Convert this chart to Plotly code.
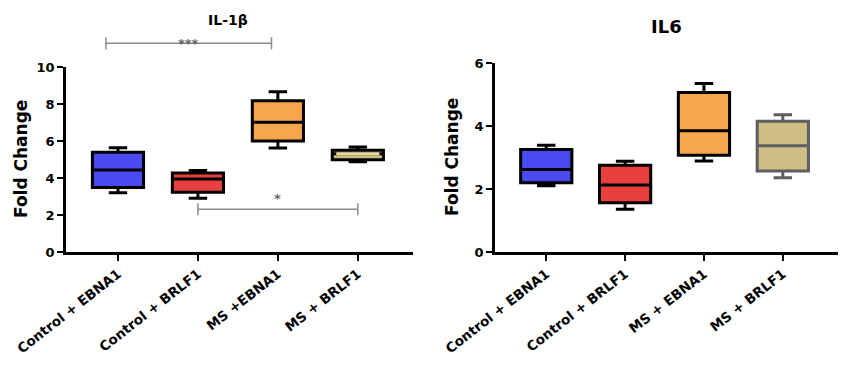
import plotly.graph_objects as go

categories = ["Control + EBNA1", "Control + BRLF1", "MS +EBNA1", "MS + BRLF1"]
categories_r = ["Control + EBNA1", "Control + BRLF1", "MS + EBNA1", "MS + BRLF1"]

# IL-1beta box statistics
il1_low = [3.20, 2.90, 5.62, 4.88]
il1_q1 = [3.48, 3.23, 6.00, 4.99]
il1_med = [4.43, 3.95, 7.01, 5.31]
il1_q3 = [5.39, 4.27, 8.18, 5.50]
il1_high = [5.64, 4.40, 8.66, 5.68]

# IL6 box statistics
il6_low = [2.10, 1.36, 2.89, 2.36]
il6_q1 = [2.20, 1.56, 3.07, 2.57]
il6_med = [2.62, 2.13, 3.85, 3.37]
il6_q3 = [3.25, 2.75, 5.06, 4.15]
il6_high = [3.39, 2.88, 5.35, 4.36]

fills = ["#4a4af2", "#e8403f", "#f7a64c", "#cdbd85"]
lines_l = ["#000000", "#000000", "#000000", "#000000"]
lines_r = ["#000000", "#000000", "#000000", "#5e5e5e"]

# significance brackets (left panel): x start, x end, y level, label
sig_x0 = [-0.15, 1.0]
sig_x1 = [1.92, 3.0]
sig_y = [11.28, 2.31]
sig_lbl = ["***", "*"]

W, H, OFF = 850, 382, 8  # page body margin offset


def PX(px):
    return (px - OFF) / W


def PY(py):
    return 1 - (py - OFF) / H


L_dom_x = [PX(66), PX(413)]
R_dom_x = [PX(495), PX(838)]
L_dom_y = [PY(252), PY(67)]
R_dom_y = [PY(252), PY(63)]
L_rng_y = [0, 10]
R_rng_y = [0, 6]

fig = go.Figure()

for i in range(4):
    fig.add_trace(go.Box(
        x=[i], q1=[il1_q1[i]], median=[il1_med[i]], q3=[il1_q3[i]],
        lowerfence=[il1_low[i]], upperfence=[il1_high[i]],
        fillcolor=fills[i], line=dict(color=lines_l[i], width=3),
        width=0.64, whiskerwidth=0.36, boxpoints=False,
        xaxis="x", yaxis="y", showlegend=False, hoverinfo="skip"))
    fig.add_trace(go.Box(
        x=[i], q1=[il6_q1[i]], median=[il6_med[i]], q3=[il6_q3[i]],
        lowerfence=[il6_low[i]], upperfence=[il6_high[i]],
        fillcolor=fills[i], line=dict(color=lines_r[i], width=3),
        width=0.65, whiskerwidth=0.36, boxpoints=False,
        xaxis="x2", yaxis="y2", showlegend=False, hoverinfo="skip"))

# light median stripe on the narrow 4th IL-1b box
fig.add_shape(type="line", xref="x", yref="y",
              x0=3 - 0.27, x1=3 + 0.27, y0=il1_med[3], y1=il1_med[3],
              line=dict(color="#e6dca0", width=3))


def ypap(v, dom, rng):
    return dom[0] + (v - rng[0]) / (rng[1] - rng[0]) * (dom[1] - dom[0])


gray = "#8c8c8c"
tick_h = 0.33
for a, b, yv, lbl in zip(sig_x0, sig_x1, sig_y, sig_lbl):
    yp = ypap(yv, L_dom_y, L_rng_y)
    yt = ypap(yv + tick_h, L_dom_y, L_rng_y)
    yb = ypap(yv - tick_h, L_dom_y, L_rng_y)
    fig.add_shape(type="line", xref="x", yref="paper", x0=a, x1=b, y0=yp, y1=yp,
                  line=dict(color=gray, width=1.5))
    fig.add_shape(type="line", xref="x", yref="paper", x0=a, x1=a, y0=yb, y1=yt,
                  line=dict(color=gray, width=1.5))
    fig.add_shape(type="line", xref="x", yref="paper", x0=b, x1=b, y0=yb, y1=yt,
                  line=dict(color=gray, width=1.5))
    fig.add_annotation(x=(a + b) / 2, y=yp, xref="x", yref="paper", text="<b>" + lbl + "</b>",
                       showarrow=False, xanchor="center",
                       yanchor="bottom" if lbl == "*" else "middle",
                       yshift=1 if lbl == "*" else 0,
                       font=dict(size=13, color="#666666", family="DejaVu Sans"))

font_b = "DejaVu Sans"
axis_common = dict(showline=True, linecolor="black", linewidth=2.8, ticks="outside",
                   ticklen=6, tickwidth=2.2, tickcolor="black", showgrid=False,
                   zeroline=False, automargin=False)

xfont = dict(size=13.5, family=font_b, weight="bold", color="black")
yfont = dict(size=13, family=font_b, weight="bold", color="black")

fig.update_layout(
    width=W, height=H,
    margin=dict(l=0, r=0, t=0, b=0),
    paper_bgcolor="white", plot_bgcolor="white",
    font=dict(family=font_b, color="black"),
    xaxis=dict(domain=L_dom_x, anchor="y", range=[-0.65, 3.69],
               tickmode="array", tickvals=[0, 1, 2, 3], ticktext=categories,
               tickangle=-38, tickfont=xfont, **axis_common),
    yaxis=dict(domain=L_dom_y, anchor="x", range=L_rng_y, tickvals=[0, 2, 4, 6, 8, 10],
               tickfont=yfont, **axis_common),
    xaxis2=dict(domain=R_dom_x, anchor="y2", range=[-0.65, 3.70],
                tickmode="array", tickvals=[0, 1, 2, 3], ticktext=categories_r,
                tickangle=-38, tickfont=xfont, **axis_common),
    yaxis2=dict(domain=R_dom_y, anchor="x2", range=R_rng_y, tickvals=[0, 2, 4, 6],
                tickfont=yfont, **axis_common),
)

ann = dict(xref="paper", yref="paper", showarrow=False, xanchor="center", yanchor="middle")
fig.add_annotation(x=PX(228), y=PY(20), text="<b>IL-1β</b>",
                   font=dict(size=14, family=font_b, color="black"), **ann)
fig.add_annotation(x=PX(666), y=PY(27), text="<b>IL6</b>",
                   font=dict(size=18, family=font_b, color="black"), **ann)
fig.add_annotation(x=PX(21), y=PY(159), text="<b>Fold Change</b>", textangle=-90,
                   font=dict(size=17, family=font_b, color="black"), **ann)
fig.add_annotation(x=PX(452), y=PY(157), text="<b>Fold Change</b>", textangle=-90,
                   font=dict(size=17, family=font_b, color="black"), **ann)

fig.write_html("out.html")
